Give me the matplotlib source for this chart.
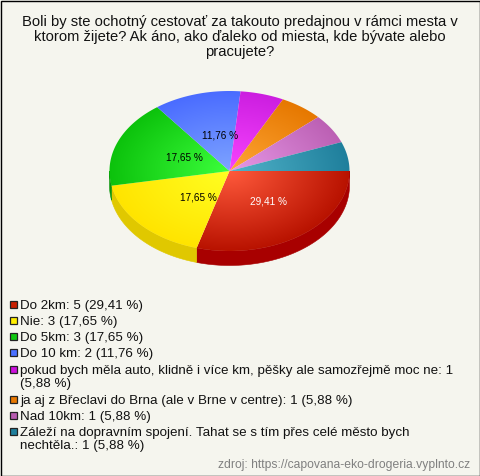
import numpy as np
import matplotlib
matplotlib.use("Agg")
import matplotlib.pyplot as plt
from matplotlib.colors import LinearSegmentedColormap
from matplotlib.patches import Polygon, Rectangle

plt.rcParams['font.family'] = ['Liberation Sans', 'DejaVu Sans']

title = "Boli by ste ochotný cestovať za takouto predajnou v rámci mesta v\nktorom žijete? Ak áno, ako ďaleko od miesta, kde bývate alebo\npracujete?"
counts = [5, 3, 3, 2, 1, 1, 1, 1]
percent_labels = ["29,41 %", "17,65 %", "17,65 %", "11,76 %", None, None, None, None]
legend_texts = ["Do 2km: 5 (29,41 %)", "Nie: 3 (17,65 %)", "Do 5km: 3 (17,65 %)", "Do 10 km: 2 (11,76 %)",
                "pokud bych měla auto, klidně i více km, pěšky ale samozřejmě moc ne: 1\n(5,88 %)",
                "ja aj z Břeclavi do Brna (ale v Brne v centre): 1 (5,88 %)",
                "Nad 10km: 1 (5,88 %)",
                "Záleží na dopravním spojení. Tahat se s tím přes celé město bych\nnechtěla.: 1 (5,88 %)"]
source = "zdroj: https://capovana-eko-drogeria.vyplnto.cz"

center_colors = ["#ff5a3c", "#ffff22", "#3cff3c", "#7ea4ff", "#f844ff", "#ffa636", "#e698e6", "#52b4ca"]
rim_colors = ["#b81200", "#ffe400", "#0cc20c", "#4a6cff", "#cc1ee0", "#e67800", "#bc60b4", "#1f7f9c"]
side_colors = ["#a80000", "#e0c800", "#0a960a", "#3a50c0", "#a010b0", "#b05800", "#904888", "#186078"]
swatch_colors = ["#c81e00", "#ffee00", "#10c810", "#4a70ff", "#cc10dc", "#e87800", "#b85cb0", "#1f7f9c"]

W, H = 480, 476
CX, CY, RX, RY, DEPTH = 229.5, 171, 120, 80, 14.5
label_xy = [(269, 201), (198, 197), (184, 158), (220, 135)]
legend_rows = [305, 321, 337, 353, 370, 400, 416, 432]

fig = plt.figure(figsize=(W / 100, H / 100), dpi=100, facecolor="#f5f5ee")
ax = fig.add_axes([0, 0, 1, 1])
ax.set_xlim(0, W)
ax.set_ylim(H, 0)
ax.axis("off")
ax.add_patch(Rectangle((0.5, 0.5), W - 1, H - 1, fc="#f5f5ee", ec="black", lw=1.0, zorder=0))

edges = np.concatenate([[0], np.cumsum(counts)]) / np.sum(counts) * 2 * np.pi


def rim(t):
    return CX + RX * np.cos(t), CY + RY * np.sin(t)


# side wall
for i in range(len(counts)):
    a, b = edges[i], min(edges[i + 1], np.pi)
    if a >= np.pi:
        continue
    t = np.linspace(a, b, 80)
    x, y = rim(t)
    pts = np.r_[np.c_[x, y], np.c_[x, y + DEPTH][::-1]]
    ax.add_patch(Polygon(pts, closed=True, fc=side_colors[i], ec=side_colors[i], lw=0.4, zorder=1))

# top surface with radial shading
yy, xx = np.mgrid[0:H * 2, 0:W * 2]
xx = (xx + 0.5) / 2
yy = (yy + 0.5) / 2
rad = np.clip(np.hypot((xx - CX) / RX, (yy - CY) / RY), 0, 1)
for i in range(len(counts)):
    t = np.linspace(edges[i], edges[i + 1], 100)
    x, y = rim(t)
    pts = np.r_[[[CX, CY]], np.c_[x, y], [[CX, CY]]]
    patch = Polygon(pts, closed=True, fc="none", ec="none", transform=ax.transData)
    ax.add_patch(patch)
    cmap = LinearSegmentedColormap.from_list(f"s{i}", [center_colors[i], rim_colors[i]])
    im = ax.imshow(rad, cmap=cmap, vmin=0, vmax=1, extent=(0, W, H, 0), zorder=2,
                   interpolation="bilinear", aspect="auto")
    im.set_clip_path(patch)
ax.set_xlim(0, W)
ax.set_ylim(H, 0)

for lab, (lx, ly), col in zip(percent_labels, label_xy, ["white", "black", "black", "black"]):
    ax.text(lx, ly, lab, ha="center", va="center", fontsize=7.2, color=col, zorder=3)

ax.text(240, 37, title, ha="center", va="center", fontsize=10.6, color="#111111",
        linespacing=1.08, zorder=3)

for txt, row, col in zip(legend_texts, legend_rows, swatch_colors):
    ax.add_patch(Rectangle((9.5, row - 3.8), 7.2, 7.2, fc=col, ec="#222222", lw=0.9, zorder=3))
    ax.text(20.5, row - 5, txt, ha="left", va="top", fontsize=9.65, color="#111111",
            linespacing=1.15, zorder=3)

ax.text(470, 465, source, ha="right", va="center", fontsize=8.75, color="#808080", zorder=3)

fig.savefig("out.png", dpi=100, facecolor=fig.get_facecolor())
